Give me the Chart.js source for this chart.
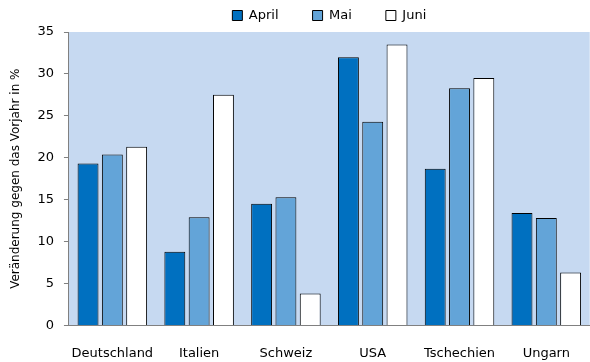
<!DOCTYPE html>
<html>
<head>
<meta charset="utf-8">
<script src="https://cdn.jsdelivr.net/npm/chart.js@4"></script>
<style>
  html, body { margin: 0; padding: 0; background: #fff; }
  #wrap { width: 590px; height: 362px; }
</style>
</head>
<body>
<div id="wrap"><canvas id="my"></canvas></div>
<script>
const countries = ["Deutschland", "Italien", "Schweiz", "USA", "Tschechien", "Ungarn"];
const april = [19.3, 8.8, 14.5, 32.0, 18.7, 13.4];
const mai = [20.4, 12.9, 15.3, 24.3, 28.3, 12.8];
const juni = [21.3, 27.5, 3.8, 33.5, 29.5, 6.3];
const yTicks = [0, 5, 10, 15, 20, 25, 30, 35];

// light blue plot background
const plotBg = {
    id: 'plotBg',
    beforeDraw(chart) {
        const { ctx, chartArea } = chart;
        ctx.save();
        ctx.fillStyle = '#c6d9f1';
        ctx.fillRect(chartArea.left, chartArea.top, chartArea.right - chartArea.left, chartArea.bottom - chartArea.top);
        ctx.restore();
    }
};

Chart.defaults.font.family = "'DejaVu Sans', sans-serif";
Chart.defaults.font.size = 12;
Chart.defaults.color = '#000';

const ctxBar = document.getElementById('my').getContext('2d');
new Chart(ctxBar, {
    type: 'bar',
    data: {
        labels: countries,
        datasets: [
            { label: 'April', data: april, backgroundColor: '#0070c0', borderColor: '#000', borderWidth: 1 },
            { label: 'Mai', data: mai, backgroundColor: '#63a4d8', borderColor: '#000', borderWidth: 1 },
            { label: 'Juni', data: juni, backgroundColor: '#ffffff', borderColor: '#000', borderWidth: 1 }
        ]
    },
    options: {
        responsive: true,
        maintainAspectRatio: false,
        animation: false,
        categoryPercentage: 0.84,
        barPercentage: 0.86,
        layout: { padding: { top: -25, right: 0, left: 9, bottom: -19 } },
        plugins: {
            legend: {
                position: 'top',
                fullSize: false,
                labels: { boxWidth: 10, boxHeight: 10, padding: 34, font: { size: 13 } }
            },
            tooltip: { enabled: false }
        },
        scales: {
            x: {
                grid: { display: false, drawTicks: false },
                border: { color: '#808080', width: 1 },
                ticks: { padding: 20, maxRotation: 0, autoSkip: false, font: { size: 13 } }
            },
            y: {
                min: 0,
                max: 35,
                afterBuildTicks: (axis) => { axis.ticks = yTicks.map(v => ({ value: v })); },
                grid: { drawOnChartArea: false, tickLength: 5, color: '#808080' },
                border: { color: '#808080', width: 1 },
                ticks: { padding: 10, font: { size: 13 } },
                title: { display: true, text: 'Veränderung gegen das Vorjahr in %', font: { size: 12 }, padding: { top: 0, bottom: 4 } }
            }
        }
    },
    plugins: [plotBg]
});
</script>
</body>
</html>
